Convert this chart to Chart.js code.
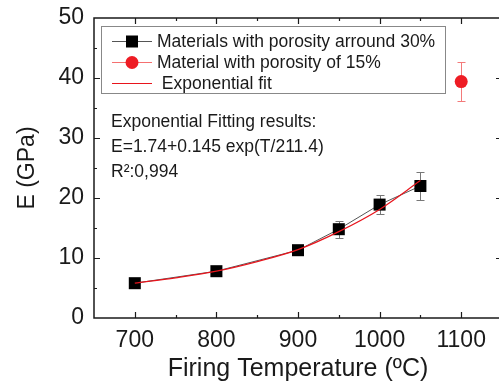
<!DOCTYPE html>
<html>
<head>
<meta charset="utf-8">
<title>Young's modulus vs firing temperature</title>
<script src="https://cdn.jsdelivr.net/npm/chart.js@4.4.1/dist/chart.umd.min.js"></script>
<style>
  html, body { margin: 0; padding: 0; background: #fff; overflow: hidden; }
  /* plot box runs slightly past the right edge of the page */
  #wrap { width: 502px; height: 386px; }
</style>
</head>
<body>
<div id="wrap"><canvas id="modulusChart"></canvas></div>

<script>
// porosity ~30% samples
const temps = [700, 800, 900, 950, 1000, 1050];
const modulus = [5.8, 7.8, 11.3, 14.8, 18.9, 22.0];
const modulusErr = [0.4, 0.4, 0.5, 1.4, 1.6, 2.4];

// porosity 15% sample
const denseTemp = [1100];
const denseModulus = [39.4];
const denseErr = [3.2];

// exponential fit curve
const fitTemps = [700, 750, 800, 850, 900, 950, 1000, 1050];
const fitModulus = [5.8, 6.7, 7.8, 9.4, 11.4, 14.4, 18.1, 22.9];

const xTicks = [700, 800, 900, 1000, 1100];
const yTicks = [0, 10, 20, 30, 40, 50];

const seriesNames = ['Materials with porosity arround 30%', 'Material with porosity of 15%', ' Exponential fit'];
const fitNotes = ['Exponential Fitting results:', 'E=1.74+0.145 exp(T/211.4)', 'R²:0,994'];

const FONT = "'Liberation Sans', Arial, sans-serif";
const INK = '#1a1a1a';

const pts = (xs, ys) => xs.map((v, i) => ({ x: v, y: ys[i] }));

// tick labels may hang over the plot edges, keep the plot box fixed
const noOverhang = s => {
  s.paddingTop = 0; s.paddingBottom = 0; s.paddingLeft = 0; s.paddingRight = 0;
};

// vertical error bars with caps, drawn under the markers
const errorBars = {
  id: 'errorBars',
  beforeDatasetsDraw(chart) {
    const { ctx, scales: { x, y } } = chart;
    chart.data.datasets.forEach(ds => {
      if (!ds.errors) return;
      ctx.save();
      ctx.strokeStyle = ds.errorColor;
      ctx.lineWidth = 1;
      ds.data.forEach((p, j) => {
        const e = ds.errors[j];
        const px = Math.round(x.getPixelForValue(p.x)) + 0.5;
        const top = Math.round(y.getPixelForValue(p.y + e)) + 0.5;
        const bot = Math.round(y.getPixelForValue(p.y - e)) + 0.5;
        ctx.beginPath();
        ctx.moveTo(px, top); ctx.lineTo(px, bot);
        ctx.moveTo(px - 4, top); ctx.lineTo(px + 4, top);
        ctx.moveTo(px - 4, bot); ctx.lineTo(px + 4, bot);
        ctx.stroke();
      });
      ctx.restore();
    });
  }
};

// box around the plot with inward major/minor ticks on every side
const frame = {
  id: 'frame',
  afterDatasetsDraw(chart) {
    const { ctx, chartArea: a, scales: { x, y } } = chart;
    ctx.save();
    ctx.strokeStyle = INK;
    ctx.lineWidth = 1.5;
    ctx.strokeRect(a.left, a.top, a.right - a.left, a.bottom - a.top);
    ctx.lineWidth = 1.2;
    const xs = [], ys = [];
    xTicks.forEach(v => { xs.push([v, 6]); xs.push([v + 50, 3]); });
    xs.push([xTicks[0] - 50, 3]);
    yTicks.forEach((v, i) => { ys.push([v, 6]); if (i < yTicks.length - 1) ys.push([v + 5, 3]); });
    ctx.beginPath();
    xs.forEach(([v, len]) => {
      const px = Math.round(x.getPixelForValue(v)) + 0.5;
      if (px <= a.left + 1 || px >= a.right - 1) return;
      ctx.moveTo(px, a.bottom); ctx.lineTo(px, a.bottom - len);
      ctx.moveTo(px, a.top); ctx.lineTo(px, a.top + len);
    });
    ys.forEach(([v, len]) => {
      const py = Math.round(y.getPixelForValue(v)) + 0.5;
      if (py <= a.top + 1 || py >= a.bottom - 1) return;
      ctx.moveTo(a.left, py); ctx.lineTo(a.left + len, py);
      ctx.moveTo(a.right, py); ctx.lineTo(a.right - len, py);
    });
    ctx.stroke();
    ctx.restore();
  }
};

// legend box and fit summary inside the plot
const notes = {
  id: 'notes',
  afterDraw(chart) {
    const { ctx } = chart;
    const ds = chart.data.datasets;
    ctx.save();
    ctx.fillStyle = '#fff';
    ctx.fillRect(101, 26, 345, 67);
    ctx.strokeStyle = '#888';
    ctx.lineWidth = 1;
    ctx.strokeRect(101.5, 26.5, 344, 67);

    ctx.font = '17.5px ' + FONT;
    ctx.textBaseline = 'middle';
    const rows = [41, 62, 83];
    [0, 1, 2].forEach(i => {
      const d = ds[i], yy = rows[i] + 0.5;
      ctx.strokeStyle = d.borderColor;
      ctx.lineWidth = 1;
      ctx.beginPath(); ctx.moveTo(112, yy); ctx.lineTo(152, yy); ctx.stroke();
      if (d.pointRadius > 0) {
        ctx.fillStyle = d.pointBackgroundColor;
        if (d.pointStyle === 'rect') {
          ctx.fillRect(126, yy - 6, 12, 12);
        } else {
          ctx.beginPath(); ctx.arc(132, yy, 6.5, 0, Math.PI * 2); ctx.fill();
        }
      }
      ctx.fillStyle = INK;
      ctx.fillText(seriesNames[i], 157, rows[i] + 1);
    });

    fitNotes.forEach((t, i) => ctx.fillText(t, 111, 122 + i * 25));
    ctx.restore();
  }
};

new Chart(document.getElementById('modulusChart'), {
  type: 'line',
  data: {
    datasets: [
      {
        label: seriesNames[0],
        data: pts(temps, modulus),
        errors: modulusErr,
        errorColor: '#777',
        borderColor: '#555',
        borderWidth: 1,
        pointStyle: 'rect',
        pointRadius: 8.5,
        pointBackgroundColor: '#000',
        pointBorderColor: '#000',
        pointBorderWidth: 0,
        order: 1
      },
      {
        label: seriesNames[1],
        data: pts(denseTemp, denseModulus),
        errors: denseErr,
        errorColor: '#f37a7a',
        borderColor: '#f57070',
        borderWidth: 1,
        showLine: false,
        pointStyle: 'circle',
        pointRadius: 6.5,
        pointBackgroundColor: '#ee1c24',
        pointBorderColor: '#ee1c24',
        pointBorderWidth: 0,
        order: 2
      },
      {
        label: seriesNames[2],
        data: pts(fitTemps, fitModulus),
        borderColor: '#e8141c',
        borderWidth: 1.2,
        pointRadius: 0,
        cubicInterpolationMode: 'monotone',
        order: 0
      }
    ]
  },
  options: {
    responsive: true,
    maintainAspectRatio: false,
    animation: false,
    devicePixelRatio: 1,
    layout: { autoPadding: false, padding: { top: 18, right: 0, left: 0, bottom: 0 } },
    plugins: { legend: { display: false }, tooltip: { enabled: false } },
    scales: {
      x: {
        type: 'linear',
        min: 650,
        max: 1150,
        afterBuildTicks: s => { s.ticks = xTicks.map(v => ({ value: v })); },
        afterFit: s => { s.height = 68; noOverhang(s); },
        grid: { display: false, drawTicks: false },
        border: { display: false },
        ticks: { color: INK, font: { family: FONT, size: 23 }, padding: 9, maxRotation: 0, callback: v => String(v) },
        title: {
          display: true,
          text: 'Firing Temperature (ºC)',
          color: INK,
          font: { family: FONT, size: 25 },
          padding: { top: 0, bottom: 2 }
        }
      },
      y: {
        min: 0,
        max: 50,
        afterBuildTicks: s => { s.ticks = yTicks.map(v => ({ value: v })); },
        afterFit: s => { s.width = 94; noOverhang(s); },
        grid: { display: false, drawTicks: false },
        border: { display: false },
        ticks: { color: INK, font: { family: FONT, size: 23 }, padding: 10 },
        title: {
          display: true,
          text: 'E (GPa)',
          color: INK,
          font: { family: FONT, size: 23 },
          padding: { top: 14, bottom: 0 }
        }
      }
    }
  },
  plugins: [errorBars, frame, notes]
});
</script>
</body>
</html>
